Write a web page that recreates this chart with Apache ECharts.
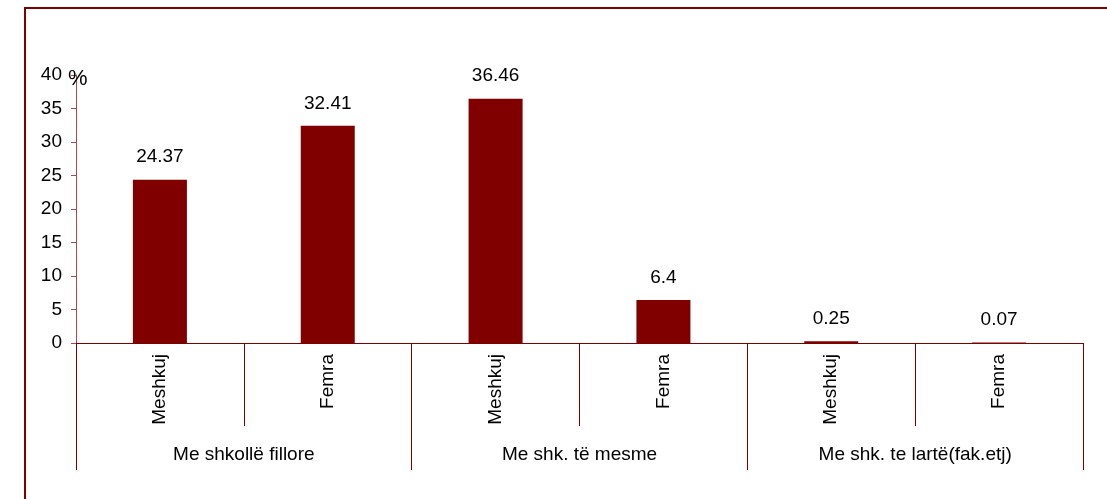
<!DOCTYPE html>
<html>
<head>
<meta charset="utf-8">
<script src="https://cdn.jsdelivr.net/npm/echarts@6/dist/echarts.min.js"></script>
<style>
html,body{margin:0;padding:0;background:#fff;}
#chart{width:1107px;height:499px;}
</style>
</head>
<body>
<div id="chart"></div>
<script>
var categories = ['Meshkuj', 'Femra', 'Meshkuj', 'Femra', 'Meshkuj', 'Femra'];
var groups = ['Me shkollë fillore', 'Me shk. të mesme', 'Me shk. te lartë(fak.etj)'];
var values = [24.37, 32.41, 36.46, 6.4, 0.25, 0.07];
var yTicks = { min: 0, max: 40, interval: 5 };
var yUnit = '%';

var dark = '#800000';
var font = 'Liberation Sans, Arial, sans-serif';
var chart = echarts.init(document.getElementById('chart'));
chart.setOption({
  animation: false,
  backgroundColor: '#fff',
  grid: { left: 76, right: 24, top: 75, bottom: 156, containLabel: false },
  graphic: [{
    type: 'rect', silent: true, z: 100,
    shape: { x: 25, y: 8, width: 1200, height: 600 },
    style: { fill: 'none', stroke: dark, lineWidth: 2 }
  }, {
    type: 'text', silent: true, z: 100, left: 68, top: 68,
    style: { text: yUnit, fill: '#000', font: '22px Liberation Sans, Arial, sans-serif' }
  }],
  xAxis: [{
    type: 'category', data: categories, position: 'bottom',
    axisLine: { show: true, lineStyle: { color: dark, width: 1 } },
    axisTick: { show: true, interval: 0, length: 83, lineStyle: { color: dark } },
    axisLabel: { interval: 0, rotate: 90, margin: 11, fontSize: 19, color: '#000', fontFamily: font }
  }, {
    type: 'category', data: groups, position: 'bottom',
    axisLine: { show: false },
    axisTick: { show: true, interval: 0, length: 127, lineStyle: { color: dark } },
    axisLabel: { interval: 0, margin: 102, fontSize: 19, color: '#000', fontFamily: font }
  }],
  yAxis: {
    type: 'value', min: yTicks.min, max: yTicks.max, interval: yTicks.interval,
    axisLine: { show: true, lineStyle: { color: '#b04848', width: 1 } },
    axisTick: { show: true, length: 5, lineStyle: { color: '#b04848' } },
    axisLabel: { fontSize: 19, color: '#000', fontFamily: font, margin: 14 },
    splitLine: { show: false }
  },
  series: [{
    type: 'bar', data: values, xAxisIndex: 0, barWidth: 54,
    itemStyle: { color: dark },
    label: { show: true, position: 'top', distance: 13, fontSize: 19, color: '#000', fontFamily: font }
  }]
});
</script>
</body>
</html>
